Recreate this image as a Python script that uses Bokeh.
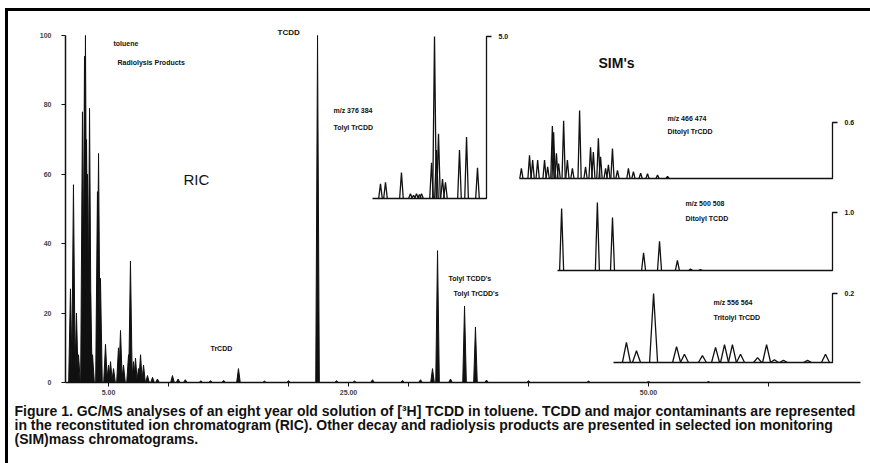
from bokeh.plotting import figure
from bokeh.models import Range1d, LinearAxis, FixedTicker, Label, Title
from bokeh.embed import file_html
from bokeh.resources import INLINE

# ---------------- data ----------------
# Reconstituted ion chromatogram (RIC): retention time (min), relative intensity (%)
ric_time = [1.83, 2.08, 2.33, 2.50, 2.83, 3.00, 3.08, 3.17, 3.25, 3.42, 3.50, 3.67,
            4.08, 4.17, 4.33, 4.75, 5.00, 5.17, 5.42, 5.83, 6.00, 6.25, 6.67, 6.83,
            7.08, 7.25, 7.50, 7.67, 7.92, 8.25, 8.67, 9.08, 10.33, 10.80, 11.40, 12.70,
            13.50, 14.60, 15.83, 18.00, 20.00, 22.42, 24.00, 25.50, 27.00, 29.50, 31.00,
            32.00, 32.42, 33.50, 34.67, 35.58, 36.50, 40.00, 45.00, 50.00, 55.00]
ric_pct = [27, 57, 20, 8, 78, 94, 100, 70, 60, 79, 26, 8,
           55, 66, 30, 11, 5, 6, 4, 10, 15, 5, 8, 35,
           6, 7, 4, 8, 5, 2, 1.5, 1, 2, 1, 0.8, 0.5,
           0.5, 0.6, 4, 0.4, 0.5, 100, 0.5, 0.4, 0.8, 0.6, 0.8,
           4, 38, 1, 22, 16, 0.7, 0.5, 0.4, 0.3, 0.3]

# SIM chromatograms: relative position in window (0-100), relative intensity (%)
simA_pos = [7.0, 11.4, 25.4, 33.3, 36.0, 38.6, 41.2, 43.0, 51.8, 54.4, 56.1, 57.9,
            61.4, 64.0, 76.3, 82.5, 92.1]
simA_pct = [9, 10, 16, 3, 2, 3, 2.5, 3, 22, 100, 30, 40, 12, 10, 30, 38, 19]

simB_pos = [0.6, 3.2, 4.2, 5.8, 8.0, 9.0, 10.5, 10.9, 11.8, 12.5, 14.1, 15.3, 16.9,
            19.2, 21.1, 22.7, 23.6, 25.2, 25.9, 27.5, 28.4, 29.7, 31.3, 34.8, 36.4,
            38.7, 40.9, 44.1, 47.3]
simB_pct = [15, 34, 27, 27, 27, 17, 77, 68, 37, 22, 85, 27, 15,
            100, 17, 46, 39, 59, 32, 15, 20, 44, 12, 15, 10,
            8, 7, 5, 3]

simC_pos = [1.5, 14.5, 20.0, 31.3, 37.1, 43.6, 48.4, 52.0]
simC_pct = [91, 100, 78, 26, 43, 15, 2, 1.5]

simD_pos = [5.9, 10.5, 18.3, 28.8, 32.4, 40.6, 46.6, 50.7, 54.3, 58.0, 65.8, 69.9,
            73.5, 77.6, 88.6, 96.8]
simD_pct = [29, 17, 100, 23, 12, 10, 22, 26, 26, 12, 7, 26, 4, 3, 3, 12]

sim_titles = [("m/z  376  384", "Tolyl  TrCDD"),
              ("m/z  466  474", "Ditolyl  TrCDD"),
              ("m/z  500  508", "Ditolyl  TCDD"),
              ("m/z  556  564", "Tritolyl  TrCDD")]
sim_scales = ["5.0", "0.6", "1.0", "0.2"]

x_ticks = [5, 10, 20, 25, 30, 40, 50, 60]
x_tick_labels = {5: "5.00", 25: "25.00", 50: "50.00"}
y_ticks = [0, 20, 40, 60, 80, 100]

caption = ["Figure 1.  GC/MS analyses of an eight year old solution of [\u00b3H] TCDD in toluene.  TCDD and major contaminants are represented",
           "in the reconstituted ion chromatogram (RIC).  Other decay and radiolysis products are presented in selected ion monitoring",
           "(SIM)mass chromatograms."]

# ---------------- layout (page pixels) ----------------
FONT = "Liberation Sans"
INK = "#111111"
OX, OY = 0, 0                                # canvas origin on the page
CW, CH = 870, 463                            # canvas size
FX0, FX1, FY0, FY1 = 65, 860, 20, 382        # frame: left, right, top, bottom
PX_PER_MIN = 12.0
PX_PER_PCT = 3.47
T_AT_LEFT = 50 - (648 - FX0) / PX_PER_MIN

def tx(px):
    return T_AT_LEFT + (px - FX0) / PX_PER_MIN

def ty(py):
    return (FY1 - py) / PX_PER_PCT

p = figure(width=CW, height=CH, output_backend="svg", toolbar_location=None,
           x_range=Range1d(tx(FX0), tx(FX1)), y_range=Range1d(0, ty(FY0)),
           x_axis_type=None, y_axis_type=None,
           min_border_left=FX0 - OX, min_border_right=OX + CW - FX1,
           min_border_top=FY0 - OY, min_border_bottom=OY + CH - FY1)
p.outline_line_color = None
p.background_fill_color = None
p.border_fill_color = None
# thick scanned page frame on the top and left edges
p.styles = {"box-shadow": "inset 5px 8px 0px 0px #ffffff, inset 8px 11px 0px 0px #000000"}

yaxis = LinearAxis(bounds=(0, 100), ticker=FixedTicker(ticks=y_ticks),
                   major_tick_out=4, major_tick_in=0, minor_tick_out=0, minor_tick_in=0,
                   axis_line_width=1.5, axis_line_color=INK, major_tick_line_color=INK,
                   major_label_text_font=FONT, major_label_text_font_size="7px",
                   major_label_text_font_style="bold", major_label_standoff=10)
p.add_layout(yaxis, "left")

xaxis = LinearAxis(ticker=FixedTicker(ticks=x_ticks),
                   major_label_overrides={t: x_tick_labels.get(t, "") for t in x_ticks},
                   major_tick_out=4, major_tick_in=0, minor_tick_out=0, minor_tick_in=0,
                   axis_line_width=1.5, axis_line_color=INK, major_tick_line_color=INK,
                   major_label_text_font=FONT, major_label_text_font_size="7px",
                   major_label_text_font_style="bold", major_label_standoff=3)
p.add_layout(xaxis, "below")

cap = Title(text="\n".join(caption), align="left", offset=14 - FX0,
            text_font=FONT, text_font_size="14px", text_font_style="bold",
            text_color=INK, text_line_height=0.88, standoff=8)
p.add_layout(cap, "below")

# RIC peaks
W_RIC = 0.15
p.patches([[t - W_RIC, t, t + W_RIC] for t in ric_time],
          [[0, h, 0] for h in ric_pct],
          fill_color=INK, line_color=INK, line_width=1)

# SIM insets: (name, pos, pct, left, right, baseline, top100, axis_top_px, half-width px)
insets = [("A", simA_pos, simA_pct, 372, 486, 198, 36, 36, 1.8),
          ("B", simB_pos, simB_pct, 519, 832, 178, 110, 122, 1.6),
          ("C", simC_pos, simC_pct, 557, 832, 270, 202, 212, 2.0),
          ("D", simD_pos, simD_pct, 613, 832, 362, 293, 293, 4.0)]

for i, (nm, pos, pct, L, R, B, T, AT, hw) in enumerate(insets):
    kx = (R - L) / 100.0
    ky = (B - T) / 100.0
    p.extra_x_ranges[nm] = Range1d(-(L - FX0) / kx, 100 + (FX1 - R) / kx)
    p.extra_y_ranges[nm] = Range1d(-(FY1 - B) / ky, 100 + (T - FY0) / ky)
    w = hw / kx
    p.multi_line([[x - w, x, x + w] for x in pos], [[0, h, 0] for h in pct],
                 x_range_name=nm, y_range_name=nm, line_color=INK, line_width=1.3)
    top = (B - AT) / ky
    p.line([0, 100, 100, 100 + 5 / kx], [0, 0, top, top],
           x_range_name=nm, y_range_name=nm, line_color=INK, line_width=1.3)
    p.add_layout(Label(x=100 + 12 / kx, y=top, x_range_name=nm, y_range_name=nm,
                       text=sim_scales[i], text_font=FONT, text_font_size="7px",
                       text_font_style="bold", text_baseline="middle", text_color=INK))

# text annotations (page-pixel placement)
texts = [("toluene", 113, 43, "7px", "bold"),
         ("Radiolysis Products", 117, 62, "7px", "bold"),
         ("TCDD", 277, 32, "8px", "bold"),
         ("RIC", 183, 179, "15px", "normal"),
         ("TrCDD", 210, 348, "7px", "bold"),
         ("Tolyl  TCDD's", 448, 278, "7px", "bold"),
         ("Tolyl  TrCDD's", 453, 293, "7px", "bold"),
         ("SIM's", 598, 62, "14px", "bold"),
         (sim_titles[0][0], 333, 110, "7px", "bold"),
         (sim_titles[0][1], 333, 127, "7px", "bold"),
         (sim_titles[1][0], 667, 118, "7px", "bold"),
         (sim_titles[1][1], 667, 131, "7px", "bold"),
         (sim_titles[2][0], 685, 203, "7px", "bold"),
         (sim_titles[2][1], 685, 218, "7px", "bold"),
         (sim_titles[3][0], 713, 302, "7px", "bold"),
         (sim_titles[3][1], 713, 317, "7px", "bold")]
for txt, px, py, fs, st in texts:
    p.add_layout(Label(x=tx(px), y=ty(py), text=txt, text_font=FONT, text_font_size=fs,
                       text_font_style=st, text_baseline="middle", text_color=INK))

open("out.html", "w").write(file_html(p, INLINE))
